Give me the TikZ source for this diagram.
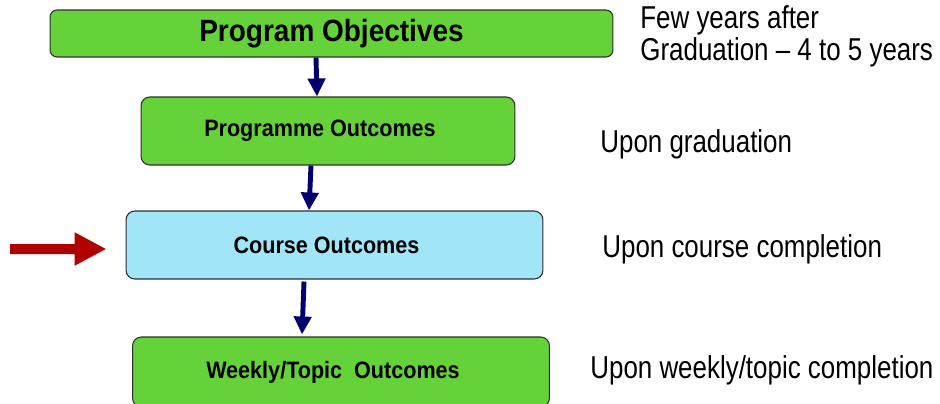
\documentclass[tikz,border=0pt]{standalone}
\usepackage{fontspec}
\usepackage{xcolor}
\definecolor{box-green}{RGB}{102,210,58}
\definecolor{box-blue}{RGB}{160,230,248}
\definecolor{edge-gray}{RGB}{45,45,45}
\definecolor{navy-900}{RGB}{0,0,110}
\definecolor{red-900}{RGB}{176,0,0}
\newfontfamily\boxfont[FakeStretch=0.91]{Liberation Sans}
\newfontfamily\labelfont[FakeStretch=0.82,Ligatures=TeX]{Liberation Sans}
\usetikzlibrary{arrows.meta,positioning}

\begin{document}
\begin{tikzpicture}[
    x=0.02cm, y=-0.02cm,
    every node/.style={inner sep=0pt},
    levelbox/.style={draw=edge-gray, line width=0.6pt, fill=box-green, rounded corners=5pt, font=\boxfont\bfseries\fontsize{13.5}{15}\selectfont},
    leftish/.style={execute at end node=\hspace{0.32cm}},
    sidelabel/.style={anchor=base west, font=\labelfont\fontsize{18}{15.9}\selectfont, align=left},
    flow/.style={navy-900, line width=2.8pt, -{Triangle[width=0.34cm,length=0.36cm]}}
]

\useasboundingbox (0,0) rectangle (940,403);

% Level boxes
\node[levelbox, rounded corners=4pt, minimum width=11.26cm, minimum height=0.94cm, font=\boxfont\bfseries\fontsize{17.5}{20}\selectfont] (objectives) at (331.5,33.5) {Program Objectives};
\node[levelbox, leftish, minimum width=7.48cm, minimum height=1.36cm] (programme) at (328,131) {Programme Outcomes};
\node[levelbox, leftish, fill=box-blue, minimum width=8.34cm, minimum height=1.36cm] (course) at (334.5,245) {Course Outcomes};
\node[levelbox, leftish, minimum width=8.34cm, minimum height=1.4cm] (weekly) at (341,372) {Weekly/Topic\ \ Outcomes};

% Downward arrows
\draw[flow] ([xshift=-0.31cm]objectives.south) -- ([xshift=-0.22cm]programme.north);
\draw[flow] ([xshift=-0.34cm]programme.south) -- ([xshift=-0.51cm]course.north);
\draw[flow] ([xshift=-0.61cm, yshift=-0.04cm]course.south) -- ([xshift=-0.78cm, yshift=0.04cm]weekly.north);

% Pointer to the course level
\coordinate (pointer) at (10,249);
\draw[red-900, line width=0.2cm, -{Triangle[width=0.62cm,length=0.64cm]}] (pointer) -- ([xshift=-0.38cm, yshift=-0.08cm]course.west);

% Time labels
\node[sidelabel] (aftergrad) at (640,60) {Few years after\\Graduation -- 4 to 5 years};
\node[sidelabel] (upongrad) at (600,152) {Upon graduation};
\node[sidelabel] (uponcourse) at (602,257) {Upon course completion};
\node[sidelabel] (uponweekly) at (590,378) {Upon weekly/topic completion};

\end{tikzpicture}
\end{document}
